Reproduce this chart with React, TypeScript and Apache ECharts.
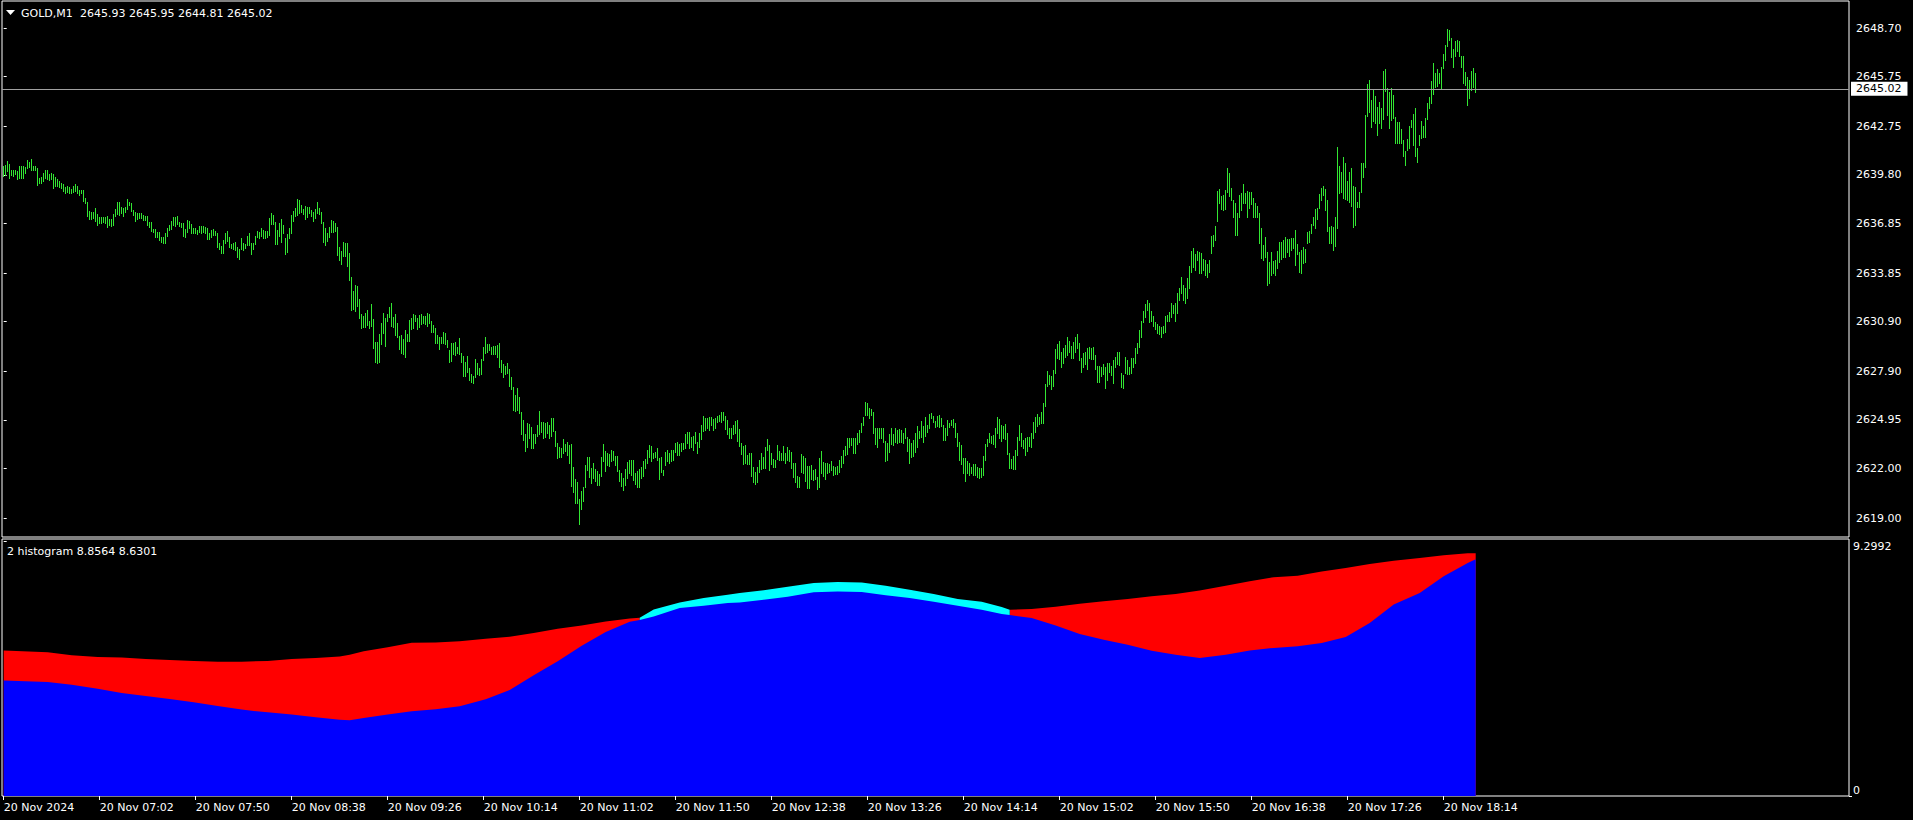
import React, { useEffect, useRef } from 'react';
import * as echarts from 'echarts';

// ---------- data ----------
const symbolName = 'GOLD,M1';
const lastOhlc = ['2645.93', '2645.95', '2644.81', '2645.02'];
const lastPrice = 2645.02;
const indicatorTitle = '2 histogram 8.8564 8.6301';

const priceMin = 2617.85;
const priceMax = 2650.34;
const priceTicks = [2648.7, 2645.75, 2642.75, 2639.8, 2636.85, 2633.85, 2630.9, 2627.9, 2624.95, 2622.0, 2619.0];

// minutes since 20 Nov 06:14
const timeTickMinutes = [0, 48, 96, 144, 192, 240, 288, 336, 384, 432, 480, 528, 576, 624, 672, 720];
const timeLabels = [
  '20 Nov 2024', '20 Nov 07:02', '20 Nov 07:50', '20 Nov 08:38', '20 Nov 09:26', '20 Nov 10:14',
  '20 Nov 11:02', '20 Nov 11:50', '20 Nov 12:38', '20 Nov 13:26', '20 Nov 14:14', '20 Nov 15:02',
  '20 Nov 15:50', '20 Nov 16:38', '20 Nov 17:26', '20 Nov 18:14',
];
const axisMinMinute = -0.85;
const axisMaxMinute = 922.65;

// one-minute bar highs, index = minute
const highs = [
  2640.34, 2640.40, 2640.64, 2640.46, 2640.10, 2640.10, 2640.10, 2640.04, 2640.34, 2640.34,
  2640.34, 2640.26, 2640.70, 2640.56, 2640.76, 2640.34, 2640.34, 2640.24, 2639.63, 2639.69,
  2639.94, 2640.10, 2640.10, 2639.86, 2639.90, 2639.84, 2639.69, 2639.55, 2639.45, 2639.33,
  2639.25, 2639.09, 2639.13, 2639.09, 2638.93, 2639.13, 2639.25, 2639.13, 2638.89, 2638.89,
  2638.89, 2638.42, 2638.16, 2637.63, 2637.57, 2637.55, 2637.77, 2637.41, 2637.27, 2637.27,
  2637.23, 2637.27, 2637.33, 2637.15, 2637.11, 2637.43, 2637.71, 2638.14, 2638.18, 2637.88,
  2637.82, 2637.88, 2638.34, 2638.18, 2638.12, 2637.67, 2637.53, 2637.51, 2637.51, 2637.47,
  2637.37, 2637.33, 2637.33, 2636.97, 2636.97, 2636.52, 2636.50, 2636.36, 2636.36, 2636.06,
  2636.06, 2636.26, 2636.60, 2636.76, 2637.03, 2637.27, 2637.27, 2637.33, 2636.97, 2636.91,
  2636.87, 2636.50, 2637.07, 2637.01, 2636.83, 2636.60, 2636.56, 2636.46, 2636.70, 2636.70,
  2636.72, 2636.66, 2636.60, 2636.26, 2636.46, 2636.52, 2636.40, 2636.30, 2635.69, 2635.49,
  2635.86, 2636.30, 2636.40, 2636.02, 2635.61, 2635.69, 2635.75, 2635.45, 2635.31, 2635.96,
  2635.69, 2635.61, 2636.10, 2636.30, 2635.65, 2635.69, 2636.10, 2636.40, 2636.32, 2636.56,
  2636.46, 2636.40, 2636.40, 2637.17, 2637.51, 2637.37, 2636.97, 2636.46, 2636.87, 2637.13,
  2636.76, 2635.96, 2636.22, 2636.56, 2637.37, 2637.61, 2637.77, 2638.32, 2638.28, 2637.98,
  2637.73, 2637.94, 2637.84, 2637.84, 2637.67, 2637.57, 2637.71, 2638.18, 2637.82, 2637.57,
  2636.97, 2636.60, 2636.26, 2636.62, 2637.07, 2637.03, 2636.91, 2636.62, 2635.45, 2635.21,
  2635.71, 2635.65, 2635.69, 2635.05, 2633.61, 2632.77, 2633.13, 2633.09, 2632.26, 2631.35,
  2631.27, 2631.45, 2631.61, 2630.95, 2631.98, 2631.07, 2629.67, 2629.69, 2630.16, 2630.81,
  2631.43, 2631.15, 2631.37, 2631.82, 2632.04, 2631.21, 2631.37, 2630.81, 2630.06, 2630.10,
  2629.86, 2630.40, 2630.14, 2631.01, 2631.15, 2631.37, 2631.31, 2631.15, 2631.31, 2631.37,
  2631.27, 2631.27, 2631.41, 2631.37, 2630.95, 2630.70, 2630.54, 2630.10, 2630.00, 2630.00,
  2630.30, 2630.20, 2629.80, 2629.19, 2629.63, 2629.63, 2629.67, 2629.39, 2629.94, 2629.03,
  2628.85, 2628.44, 2628.85, 2628.12, 2627.74, 2627.61, 2628.64, 2628.42, 2628.12, 2628.64,
  2629.39, 2630.00, 2629.55, 2629.55, 2629.35, 2629.45, 2629.45, 2629.49, 2629.63, 2628.58,
  2628.34, 2628.21, 2628.42, 2628.01, 2627.53, 2626.92, 2626.46, 2626.86, 2626.32, 2625.41,
  2624.94, 2624.09, 2624.74, 2624.68, 2624.50, 2624.09, 2624.09, 2624.64, 2625.49, 2624.84,
  2624.80, 2624.74, 2624.80, 2624.64, 2625.06, 2625.06, 2624.28, 2623.53, 2623.33, 2623.22,
  2623.79, 2623.47, 2623.59, 2623.43, 2623.49, 2622.11, 2621.37, 2621.20, 2620.15, 2620.64,
  2620.90, 2622.21, 2622.72, 2622.72, 2622.01, 2622.32, 2621.97, 2621.85, 2621.67, 2622.68,
  2623.49, 2623.06, 2622.92, 2622.86, 2623.12, 2623.08, 2622.78, 2622.78, 2621.91, 2621.75,
  2621.41, 2621.97, 2622.42, 2622.52, 2622.52, 2622.52, 2621.75, 2621.85, 2621.97, 2622.11,
  2622.48, 2622.58, 2623.12, 2623.43, 2623.39, 2622.92, 2623.02, 2623.22, 2622.66, 2622.68,
  2621.91, 2622.98, 2623.12, 2622.96, 2623.12, 2623.12, 2623.57, 2623.59, 2623.47, 2623.57,
  2623.57, 2624.09, 2624.19, 2624.19, 2623.93, 2623.99, 2624.19, 2623.59, 2624.17, 2624.64,
  2625.18, 2625.08, 2625.04, 2625.14, 2625.14, 2624.98, 2625.04, 2625.18, 2625.24, 2625.45,
  2625.41, 2625.18, 2624.94, 2624.48, 2624.44, 2624.64, 2624.90, 2624.94, 2624.38, 2623.53,
  2623.39, 2623.43, 2622.82, 2622.92, 2622.92, 2622.07, 2621.81, 2622.07, 2622.52, 2622.92,
  2622.72, 2623.33, 2623.79, 2623.43, 2622.92, 2622.56, 2622.52, 2623.43, 2623.06, 2622.92,
  2623.37, 2622.96, 2623.29, 2623.12, 2622.98, 2622.32, 2622.32, 2621.55, 2621.51, 2622.88,
  2622.76, 2622.62, 2622.15, 2622.15, 2622.21, 2621.91, 2621.95, 2621.51, 2622.62, 2623.06,
  2622.42, 2622.36, 2622.32, 2622.28, 2622.46, 2622.17, 2622.11, 2622.15, 2622.52, 2622.78,
  2623.12, 2623.39, 2623.87, 2623.83, 2623.87, 2623.83, 2623.83, 2624.13, 2624.34, 2624.74,
  2625.14, 2626.01, 2625.95, 2625.65, 2625.61, 2625.45, 2624.44, 2624.44, 2624.48, 2624.44,
  2624.44, 2623.67, 2623.53, 2624.09, 2624.44, 2624.09, 2624.44, 2624.34, 2624.38, 2624.34,
  2624.13, 2624.48, 2623.93, 2623.77, 2623.53, 2623.73, 2624.13, 2624.58, 2624.28, 2624.88,
  2624.58, 2625.14, 2624.64, 2625.31, 2625.35, 2625.18, 2624.90, 2625.18, 2625.24, 2625.08,
  2624.64, 2624.44, 2624.94, 2624.78, 2624.94, 2625.00, 2624.74, 2624.13, 2623.61, 2623.43,
  2622.62, 2622.62, 2622.48, 2622.32, 2622.11, 2622.28, 2622.26, 2622.07, 2622.01, 2622.05,
  2622.76, 2623.49, 2623.78, 2624.14, 2624.00, 2624.04, 2624.44, 2625.11, 2625.01, 2624.65,
  2624.59, 2624.71, 2624.14, 2622.93, 2622.57, 2622.73, 2623.13, 2623.94, 2624.65, 2624.14,
  2623.70, 2623.84, 2623.94, 2623.94, 2624.14, 2624.85, 2625.11, 2625.29, 2625.15, 2625.45,
  2626.00, 2627.13, 2627.94, 2627.64, 2627.62, 2627.98, 2629.23, 2629.56, 2629.74, 2629.05,
  2629.29, 2629.49, 2629.96, 2629.76, 2629.43, 2629.64, 2630.00, 2630.14, 2629.60, 2628.69,
  2628.99, 2629.09, 2629.29, 2629.39, 2629.33, 2629.39, 2628.89, 2628.22, 2628.24, 2628.14,
  2628.32, 2628.14, 2628.38, 2628.42, 2628.22, 2628.59, 2628.75, 2629.09, 2629.09, 2627.78,
  2627.68, 2628.75, 2628.59, 2628.18, 2628.69, 2628.73, 2629.29, 2629.60, 2630.40, 2630.95,
  2631.56, 2631.98, 2632.22, 2632.06, 2631.56, 2631.25, 2630.91, 2630.75, 2630.65, 2630.57,
  2630.67, 2631.27, 2631.31, 2631.47, 2632.02, 2631.92, 2632.06, 2632.63, 2632.97, 2633.64,
  2633.13, 2632.93, 2633.53, 2634.28, 2635.21, 2635.39, 2634.99, 2635.19, 2635.15, 2635.05,
  2634.69, 2634.65, 2634.38, 2634.65, 2636.12, 2636.16, 2636.71, 2638.83, 2638.95, 2638.54,
  2638.58, 2638.89, 2640.20, 2639.94, 2638.99, 2638.28, 2638.12, 2637.47, 2638.58, 2638.69,
  2639.23, 2638.69, 2638.85, 2638.75, 2638.79, 2638.38, 2638.12, 2637.92, 2637.51, 2636.56,
  2635.55, 2636.06, 2635.15, 2634.54, 2635.15, 2634.61, 2634.65, 2635.19, 2635.72, 2635.76,
  2635.86, 2636.02, 2635.92, 2635.92, 2635.96, 2635.96, 2636.46, 2635.62, 2635.15, 2635.25,
  2635.45, 2635.31, 2636.32, 2636.42, 2636.83, 2637.27, 2637.74, 2637.78, 2638.65, 2638.99,
  2639.15, 2638.93, 2638.28, 2636.63, 2636.71, 2636.67, 2637.23, 2641.51, 2640.36, 2640.00,
  2640.91, 2640.50, 2639.43, 2640.00, 2640.20, 2639.15, 2639.09, 2638.18, 2638.79, 2640.50,
  2640.54, 2643.43, 2645.31, 2645.55, 2644.34, 2644.95, 2644.58, 2643.94, 2644.24, 2643.84,
  2646.10, 2646.22, 2645.05, 2644.85, 2645.05, 2644.64, 2643.33, 2643.03, 2643.03, 2642.56,
  2641.92, 2641.25, 2641.96, 2642.77, 2643.13, 2643.49, 2643.84, 2641.41, 2642.22, 2643.07,
  2642.77, 2643.23, 2644.14, 2644.54, 2645.49, 2646.60, 2646.00, 2646.20, 2645.96, 2646.32,
  2647.13, 2647.67, 2648.64, 2648.58, 2648.08, 2647.41, 2647.94, 2647.98, 2647.94, 2647.01,
  2647.01, 2646.06, 2645.72, 2645.55, 2646.12, 2646.26, 2645.95,
];

// one-minute bar lows, index = minute
const lows = [
  2639.75, 2639.79, 2640.06, 2639.63, 2639.79, 2639.73, 2639.86, 2639.57, 2639.63, 2639.63,
  2639.63, 2639.90, 2640.20, 2640.30, 2640.10, 2640.10, 2640.10, 2639.21, 2639.29, 2639.29,
  2639.45, 2639.59, 2639.53, 2639.49, 2639.53, 2639.03, 2639.13, 2639.15, 2639.05, 2638.99,
  2638.85, 2638.72, 2638.76, 2638.72, 2638.68, 2638.78, 2638.85, 2638.72, 2638.58, 2638.68,
  2638.24, 2638.12, 2637.31, 2637.13, 2637.13, 2637.21, 2637.03, 2636.76, 2636.87, 2636.91,
  2636.97, 2636.91, 2636.66, 2636.76, 2636.70, 2636.76, 2637.33, 2637.43, 2637.37, 2637.47,
  2637.33, 2637.55, 2637.71, 2637.98, 2637.63, 2637.37, 2637.01, 2637.13, 2637.21, 2637.21,
  2637.07, 2637.07, 2636.76, 2636.66, 2636.40, 2636.32, 2636.06, 2636.06, 2635.86, 2635.75,
  2635.69, 2635.69, 2636.10, 2636.46, 2636.52, 2636.76, 2636.72, 2636.83, 2636.70, 2636.62,
  2636.10, 2636.06, 2636.36, 2636.56, 2636.26, 2636.26, 2636.26, 2636.22, 2636.36, 2636.30,
  2636.36, 2636.26, 2635.92, 2635.92, 2636.02, 2636.16, 2636.16, 2635.45, 2635.29, 2635.09,
  2635.09, 2635.69, 2635.80, 2635.45, 2635.39, 2635.29, 2635.25, 2634.85, 2634.70, 2635.29,
  2635.25, 2635.39, 2635.55, 2635.55, 2635.01, 2635.31, 2635.61, 2636.02, 2635.96, 2636.10,
  2635.96, 2635.96, 2636.02, 2636.16, 2636.81, 2636.81, 2635.61, 2635.61, 2636.12, 2635.75,
  2636.26, 2635.01, 2635.15, 2635.96, 2636.26, 2637.01, 2637.31, 2637.37, 2637.51, 2637.57,
  2637.41, 2637.13, 2637.27, 2637.47, 2637.31, 2637.01, 2637.21, 2637.51, 2637.43, 2636.87,
  2635.75, 2635.55, 2635.82, 2636.02, 2636.36, 2636.36, 2636.40, 2634.95, 2634.64, 2634.40,
  2634.89, 2634.89, 2634.28, 2633.43, 2631.61, 2631.65, 2631.55, 2631.88, 2631.11, 2630.54,
  2630.60, 2630.60, 2630.70, 2630.54, 2630.66, 2629.33, 2628.48, 2628.38, 2628.48, 2629.53,
  2630.24, 2629.45, 2630.97, 2631.17, 2630.64, 2630.60, 2630.10, 2629.96, 2629.25, 2628.99,
  2628.95, 2628.75, 2629.76, 2629.76, 2630.44, 2630.50, 2630.97, 2630.46, 2630.60, 2630.77,
  2630.81, 2630.77, 2630.66, 2630.85, 2630.30, 2630.30, 2629.63, 2629.63, 2629.23, 2629.59,
  2629.63, 2629.53, 2629.39, 2628.44, 2628.52, 2628.95, 2628.89, 2629.03, 2628.93, 2628.44,
  2627.63, 2627.63, 2627.88, 2627.37, 2627.23, 2627.17, 2627.57, 2627.72, 2627.67, 2627.72,
  2628.58, 2629.03, 2629.05, 2629.19, 2628.93, 2628.93, 2628.92, 2628.78, 2628.17, 2627.87,
  2627.57, 2627.73, 2627.77, 2627.00, 2626.80, 2625.55, 2625.51, 2625.55, 2625.39, 2624.09,
  2623.73, 2623.06, 2623.29, 2623.83, 2623.27, 2623.27, 2623.57, 2623.99, 2624.09, 2624.23,
  2623.87, 2623.93, 2624.13, 2623.87, 2623.99, 2624.30, 2623.39, 2622.66, 2622.72, 2622.72,
  2622.92, 2623.06, 2622.82, 2622.36, 2620.96, 2620.60, 2619.89, 2619.89, 2618.64, 2619.55,
  2620.05, 2620.90, 2621.91, 2621.51, 2621.14, 2621.41, 2621.27, 2621.00, 2621.00, 2621.57,
  2622.46, 2621.85, 2622.21, 2622.15, 2622.48, 2622.52, 2622.21, 2621.87, 2621.27, 2620.94,
  2620.70, 2621.00, 2621.45, 2621.75, 2621.61, 2621.31, 2621.06, 2620.90, 2620.90, 2621.45,
  2621.57, 2622.05, 2622.32, 2622.72, 2622.48, 2622.62, 2622.68, 2622.52, 2621.37, 2621.81,
  2621.61, 2622.21, 2622.48, 2622.32, 2622.48, 2622.52, 2622.98, 2622.82, 2622.82, 2623.08,
  2623.18, 2623.27, 2623.53, 2623.27, 2623.33, 2623.12, 2623.57, 2622.96, 2623.33, 2623.79,
  2624.28, 2624.34, 2624.48, 2624.34, 2624.64, 2624.34, 2624.48, 2624.80, 2624.88, 2624.84,
  2624.94, 2624.38, 2624.09, 2623.87, 2623.83, 2624.09, 2624.13, 2623.67, 2623.39, 2622.86,
  2622.28, 2622.32, 2622.28, 2622.28, 2621.57, 2621.16, 2621.06, 2621.20, 2621.81, 2621.97,
  2622.01, 2622.01, 2623.12, 2621.91, 2622.28, 2622.11, 2622.07, 2622.58, 2622.52, 2622.52,
  2622.52, 2622.36, 2622.52, 2622.48, 2622.05, 2621.51, 2621.20, 2620.90, 2620.90, 2621.81,
  2621.71, 2621.27, 2620.84, 2620.84, 2621.35, 2621.31, 2621.37, 2620.76, 2620.90, 2621.71,
  2621.57, 2621.35, 2621.71, 2621.81, 2621.91, 2621.61, 2621.67, 2621.65, 2621.81, 2622.11,
  2622.36, 2622.82, 2622.88, 2623.33, 2623.43, 2622.92, 2622.92, 2623.49, 2623.63, 2624.23,
  2624.64, 2625.24, 2625.24, 2625.04, 2625.24, 2624.17, 2623.49, 2623.29, 2623.87, 2623.87,
  2623.63, 2622.48, 2622.52, 2623.02, 2623.49, 2623.43, 2623.63, 2623.57, 2623.63, 2623.63,
  2623.57, 2623.83, 2623.08, 2622.36, 2622.72, 2622.78, 2623.02, 2623.33, 2623.83, 2623.93,
  2623.63, 2623.97, 2624.23, 2624.48, 2625.08, 2624.84, 2624.50, 2624.58, 2624.54, 2624.58,
  2623.73, 2623.73, 2624.03, 2624.54, 2624.64, 2624.54, 2623.93, 2623.37, 2622.52, 2622.28,
  2621.75, 2621.25, 2621.71, 2621.61, 2621.75, 2621.61, 2621.61, 2621.47, 2621.45, 2621.51,
  2621.61, 2622.52, 2623.37, 2623.58, 2623.54, 2623.50, 2623.33, 2624.14, 2623.84, 2623.64,
  2623.84, 2623.78, 2622.87, 2622.02, 2622.02, 2621.96, 2621.96, 2622.83, 2623.74, 2623.37,
  2623.23, 2622.83, 2623.09, 2623.37, 2623.29, 2623.84, 2624.24, 2624.55, 2624.69, 2624.79,
  2624.79, 2625.80, 2627.01, 2627.11, 2626.81, 2627.01, 2627.82, 2628.69, 2628.65, 2628.18,
  2628.38, 2628.75, 2628.89, 2629.09, 2628.69, 2628.73, 2629.09, 2629.29, 2628.59, 2627.88,
  2628.18, 2628.32, 2628.02, 2628.69, 2628.63, 2628.63, 2628.02, 2627.27, 2627.27, 2627.62,
  2627.72, 2626.87, 2627.37, 2627.88, 2627.68, 2627.21, 2628.18, 2628.34, 2628.28, 2626.97,
  2626.87, 2627.78, 2627.72, 2627.72, 2627.78, 2628.18, 2628.38, 2628.99, 2629.39, 2630.00,
  2630.91, 2631.17, 2631.58, 2630.91, 2630.97, 2630.61, 2630.44, 2630.24, 2630.14, 2630.00,
  2630.20, 2630.30, 2630.95, 2630.95, 2631.21, 2631.41, 2630.97, 2631.45, 2632.22, 2632.63,
  2632.22, 2632.02, 2632.32, 2632.93, 2633.94, 2634.24, 2634.04, 2634.65, 2633.84, 2633.84,
  2634.04, 2633.74, 2633.60, 2633.90, 2635.05, 2635.51, 2635.86, 2637.03, 2638.08, 2637.72,
  2637.68, 2637.72, 2638.79, 2638.52, 2638.28, 2637.27, 2636.16, 2636.16, 2637.27, 2637.68,
  2638.08, 2638.08, 2637.27, 2637.82, 2638.04, 2637.27, 2637.27, 2637.27, 2635.66, 2634.75,
  2634.65, 2634.85, 2633.13, 2633.23, 2633.74, 2633.84, 2633.74, 2634.14, 2634.54, 2634.69,
  2634.85, 2634.81, 2635.15, 2634.91, 2635.25, 2635.35, 2634.34, 2635.01, 2633.94, 2633.84,
  2634.48, 2634.54, 2635.70, 2635.76, 2636.26, 2636.77, 2636.56, 2637.13, 2637.78, 2638.28,
  2638.58, 2637.68, 2636.40, 2635.66, 2635.70, 2635.25, 2635.49, 2636.56, 2638.69, 2638.75,
  2638.38, 2638.32, 2638.28, 2638.18, 2637.92, 2636.67, 2636.77, 2637.87, 2637.87, 2638.79,
  2639.66, 2640.30, 2643.37, 2643.63, 2642.73, 2643.07, 2642.93, 2642.22, 2642.93, 2642.62,
  2643.17, 2644.89, 2643.43, 2642.62, 2643.13, 2643.23, 2641.72, 2641.72, 2641.72, 2641.72,
  2640.95, 2640.40, 2641.31, 2641.41, 2642.69, 2641.61, 2640.95, 2640.60, 2641.61, 2642.02,
  2642.12, 2642.12, 2643.17, 2643.88, 2644.18, 2644.71, 2645.15, 2645.19, 2645.35, 2645.05,
  2646.26, 2646.77, 2647.63, 2647.98, 2646.97, 2646.32, 2647.01, 2647.33, 2647.01, 2646.36,
  2645.35, 2645.25, 2644.04, 2644.44, 2644.95, 2645.15, 2644.81,
];

// indicator window samples (minute, upper buffer, lower buffer)
const indMinutes = [
  0, 22, 34, 47, 59, 71, 83, 95, 107, 119, 132, 144, 156, 168, 173, 180, 192, 204, 216, 228,
  241, 253, 265, 277, 289, 301, 313, 318, 325, 338, 350, 362, 368, 380, 392, 405, 417, 429, 441, 453,
  465, 477, 489, 499, 503, 514, 526, 538, 550, 562, 574, 586, 598, 611, 623, 635, 647, 659, 671, 683,
  695, 708, 720, 732, 736,
];
const indUpper = [
  5.31, 5.24, 5.13, 5.07, 5.05, 5.00, 4.96, 4.92, 4.90, 4.90, 4.92, 5.00, 5.03, 5.09, 5.15, 5.28, 5.42, 5.59, 5.60, 5.64,
  5.73, 5.81, 5.94, 6.10, 6.22, 6.36, 6.47, 6.50, 6.80, 7.06, 7.22, 7.34, 7.40, 7.50, 7.63, 7.77, 7.80, 7.79, 7.67, 7.52,
  7.37, 7.18, 7.08, 6.89, 6.79, 6.82, 6.90, 7.01, 7.10, 7.18, 7.28, 7.37, 7.49, 7.67, 7.83, 7.98, 8.03, 8.19, 8.31, 8.46,
  8.58, 8.68, 8.78, 8.85, 8.8564,
];
const indLower = [
  4.21, 4.16, 4.06, 3.91, 3.76, 3.65, 3.54, 3.42, 3.28, 3.15, 3.05, 2.97, 2.87, 2.78, 2.76, 2.84, 2.97, 3.09, 3.16, 3.27,
  3.53, 3.87, 4.40, 4.91, 5.48, 5.98, 6.35, 6.42, 6.55, 6.86, 6.94, 7.04, 7.06, 7.16, 7.27, 7.43, 7.46, 7.44, 7.32, 7.22,
  7.08, 6.94, 6.79, 6.64, 6.60, 6.49, 6.22, 5.91, 5.70, 5.52, 5.30, 5.15, 5.03, 5.15, 5.31, 5.40, 5.46, 5.58, 5.80, 6.31,
  6.98, 7.40, 8.01, 8.50, 8.6301,
];
const cyanFrom = 318;
const cyanTo = 503;
const indAxisMax = 9.372;
const indTopTick = 9.2992;

// ---------- styles ----------
const FONT = '"DejaVu Sans", sans-serif';
const BAR_COLOR = '#32e632';
const WHITE = '#ffffff';

export default function App() {
  const ref = useRef<HTMLDivElement>(null);

  useEffect(() => {
    if (!ref.current) return;
    const chart = echarts.init(ref.current, undefined, { renderer: 'svg' });

    const barData = highs.map((h, i) => [i, h, lows[i]]);
    const redData = indMinutes.map((m, i) =>
      m <= cyanFrom || m >= cyanTo ? [m, indUpper[i]] : [m, '-']
    );
    const cyanData = indMinutes.map((m, i) =>
      m >= cyanFrom && m <= cyanTo ? [m, indUpper[i]] : [m, '-']
    );
    const blueData = indMinutes.map((m, i) => [m, indLower[i]]);

    const option: any = {
      animation: false,
      backgroundColor: '#000000',
      grid: [
        { left: 2, top: 1, width: 1847, height: 536, show: true, borderColor: WHITE, borderWidth: 1, backgroundColor: '#000' },
        { left: 2, top: 539, width: 1847, height: 257, show: true, borderColor: WHITE, borderWidth: 1, backgroundColor: '#000' },
      ],
      xAxis: [
        {
          type: 'value', gridIndex: 0, min: axisMinMinute, max: axisMaxMinute, show: false,
          splitLine: { show: false },
        },
        {
          type: 'value', gridIndex: 1, min: axisMinMinute, max: axisMaxMinute, position: 'bottom',
          axisLine: { show: false },
          splitLine: { show: false },
          axisTick: { show: true, length: 4, lineStyle: { color: WHITE }, customValues: timeTickMinutes },
          axisLabel: {
            show: true, customValues: timeTickMinutes, color: WHITE, fontFamily: FONT, fontSize: 11,
            align: 'left', margin: 6,
            formatter: (v: number) => {
              const idx = timeTickMinutes.indexOf(Math.round(v));
              return idx >= 0 ? timeLabels[idx] : '';
            },
          },
        },
      ],
      yAxis: [
        {
          type: 'value', gridIndex: 0, position: 'right', min: priceMin, max: priceMax,
          axisLine: { show: false }, splitLine: { show: false },
          axisTick: { show: true, length: 3, lineStyle: { color: WHITE }, customValues: priceTicks },
          axisLabel: {
            show: true, customValues: priceTicks, color: WHITE, fontFamily: FONT, fontSize: 11, margin: 7,
            formatter: (v: number) => v.toFixed(2),
          },
        },
        {
          type: 'value', gridIndex: 1, position: 'right', min: 0, max: indAxisMax,
          axisLine: { show: false }, splitLine: { show: false },
          axisTick: { show: true, length: 3, lineStyle: { color: WHITE }, customValues: [indTopTick] },
          axisLabel: {
            show: true, customValues: [indTopTick], color: WHITE, fontFamily: FONT, fontSize: 11, margin: 4,
            verticalAlign: 'top', formatter: () => String(indTopTick),
          },
        },
        {
          type: 'value', gridIndex: 1, position: 'right', min: 0, max: indAxisMax,
          axisLine: { show: false }, splitLine: { show: false },
          axisTick: { show: true, length: 3, lineStyle: { color: WHITE }, customValues: [0] },
          axisLabel: {
            show: true, customValues: [0], color: WHITE, fontFamily: FONT, fontSize: 11, margin: 4,
            verticalAlign: 'bottom', formatter: () => '0',
          },
        },
      ],
      series: [
        {
          type: 'custom',
          name: 'bars',
          xAxisIndex: 0,
          yAxisIndex: 0,
          data: barData,
          encode: { x: 0, y: [1, 2] },
          renderItem: (params: any, api: any) => {
            const m = api.value(0);
            const top = api.coord([m, api.value(1)]);
            const bot = api.coord([m, api.value(2)]);
            const x = Math.floor(top[0]);
            const y1 = Math.round(top[1]);
            const y2 = Math.round(bot[1]);
            return {
              type: 'rect',
              shape: { x, y: y1, width: 1, height: Math.max(1, y2 - y1 + 1) },
              style: { fill: BAR_COLOR },
            };
          },
          z: 3,
        },
        {
          type: 'line',
          name: 'bid',
          xAxisIndex: 0,
          yAxisIndex: 0,
          data: [[0, lastPrice]],
          symbol: 'none',
          lineStyle: { opacity: 0 },
          z: 4,
          markLine: {
            silent: true,
            symbol: 'none',
            lineStyle: { color: '#a0a0a0', width: 1, type: 'solid' },
            label: {
              show: true,
              position: 'end',
              distance: 2,
              formatter: () => lastPrice.toFixed(2),
              color: '#000',
              backgroundColor: '#fff',
              fontFamily: FONT,
              fontSize: 11,
              lineHeight: 12,
              padding: [1, 6, 1, 5],
            },
            data: [{ yAxis: lastPrice }],
          },
        },
        {
          type: 'line',
          name: 'red',
          xAxisIndex: 1,
          yAxisIndex: 1,
          data: redData,
          symbol: 'none',
          connectNulls: false,
          lineStyle: { width: 0, color: '#ff0000' },
          areaStyle: { color: '#ff0000', opacity: 1 },
          z: 2,
        },
        {
          type: 'line',
          name: 'cyan',
          xAxisIndex: 1,
          yAxisIndex: 1,
          data: cyanData,
          symbol: 'none',
          connectNulls: false,
          lineStyle: { width: 0, color: '#00ffff' },
          areaStyle: { color: '#00ffff', opacity: 1 },
          z: 2,
        },
        {
          type: 'line',
          name: 'blue',
          xAxisIndex: 1,
          yAxisIndex: 1,
          data: blueData,
          symbol: 'none',
          lineStyle: { width: 0, color: '#0000ff' },
          areaStyle: { color: '#0000ff', opacity: 1 },
          z: 3,
        },
      ],
      graphic: [
        {
          type: 'polygon',
          shape: { points: [[6, 10], [15, 10], [10.5, 15]] },
          style: { fill: WHITE },
          z: 10,
        },
        {
          type: 'text',
          x: 21,
          y: 13,
          style: { text: symbolName, fill: WHITE, font: `11px ${FONT}`, verticalAlign: 'middle', align: 'left' },
          z: 10,
        },
        {
          type: 'text',
          x: 80,
          y: 13,
          style: { text: lastOhlc.join(' '), fill: WHITE, font: `11px ${FONT}`, verticalAlign: 'middle', align: 'left' },
          z: 10,
        },
        {
          type: 'text',
          x: 7,
          y: 551,
          style: { text: indicatorTitle, fill: WHITE, font: `11px ${FONT}`, verticalAlign: 'middle', align: 'left' },
          z: 10,
        },
      ],
    };

    chart.setOption(option);
    return () => {
      chart.dispose();
    };
  }, []);

  return (
    <div
      ref={ref}
      style={{ position: 'absolute', left: 0, top: 0, width: 1913, height: 820, background: '#000' }}
    />
  );
}
